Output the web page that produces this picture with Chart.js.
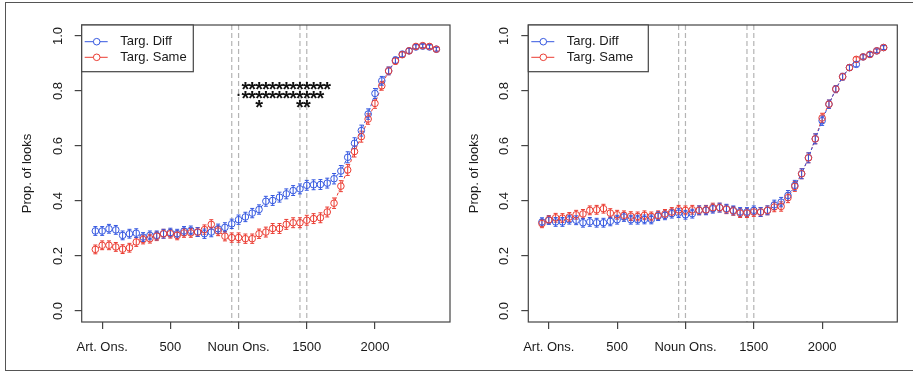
<!DOCTYPE html>
<html lang="en">
<head>
  <meta charset="UTF-8">
  <title>Prop. of looks</title>
  <script src="https://cdn.jsdelivr.net/npm/chart.js"></script>
  <style>
    body { margin: 0; background: #fff; }
    .frame { position: absolute; left: 5px; top: 2px; width: 915px; height: 367px; border: 1.5px solid #555; border-right: none; }
    .panel { position: absolute; top: 0; height: 372px; }
    #left { left: 0; width: 456px; }
    #right { left: 456px; width: 457px; }
  </style>
</head>
<body>
<div class="frame"></div>
<div class="panel" id="left"><canvas id="chartLeft"></canvas></div>
<div class="panel" id="right"><canvas id="chartRight"></canvas></div>

<script>
  // time bins (ms from article onset)
  const timeBins = [-50, 0, 50, 100, 150, 200, 250, 300, 350, 400, 450, 500, 550, 600, 650, 700, 750,
    800, 850, 900, 950, 1000, 1050, 1100, 1150, 1200, 1250, 1300, 1350, 1400, 1450, 1500, 1550, 1600,
    1650, 1700, 1750, 1800, 1850, 1900, 1950, 2000, 2050, 2100, 2150, 2200, 2250, 2300, 2350, 2400, 2450];

  const xTickValues = [0, 500, 1000, 1500, 2000];
  const xTickLabels = ['Art. Ons.', '500', 'Noun Ons.', '1500', '2000'];
  const yTickValues = [0, 0.2, 0.4, 0.6, 0.8, 1.0];
  const yTickLabels = ['0.0', '0.2', '0.4', '0.6', '0.8', '1.0'];
  const onsetLines = [950, 1000, 1450, 1500];
  const seriesNames = ['Targ. Diff', 'Targ. Same'];

  // left panel
  const leftDiff = [0.291, 0.291, 0.299, 0.295, 0.275, 0.281, 0.283, 0.269, 0.275, 0.275,
    0.281, 0.285, 0.281, 0.291, 0.293, 0.287, 0.281, 0.287, 0.299, 0.304,
    0.317, 0.332, 0.342, 0.356, 0.369, 0.399, 0.402, 0.414, 0.426, 0.438,
    0.444, 0.457, 0.459, 0.460, 0.465, 0.481, 0.509, 0.559, 0.610, 0.656,
    0.716, 0.791, 0.837, 0.873, 0.912, 0.934, 0.946, 0.960, 0.963, 0.960, 0.952];
  const leftSame = [0.224, 0.239, 0.239, 0.233, 0.225, 0.230, 0.251, 0.260, 0.263, 0.272,
    0.281, 0.281, 0.275, 0.284, 0.284, 0.287, 0.296, 0.315, 0.291, 0.272,
    0.267, 0.267, 0.263, 0.263, 0.281, 0.287, 0.300, 0.300, 0.315, 0.321,
    0.321, 0.330, 0.336, 0.339, 0.360, 0.392, 0.454, 0.513, 0.580, 0.634,
    0.698, 0.755, 0.819, 0.873, 0.909, 0.932, 0.946, 0.962, 0.965, 0.962, 0.952];
  const leftSE = [0.016, 0.016, 0.016, 0.016, 0.016, 0.016, 0.016, 0.016, 0.016, 0.016,
    0.016, 0.016, 0.016, 0.016, 0.016, 0.016, 0.017, 0.017, 0.017, 0.017,
    0.017, 0.017, 0.017, 0.017, 0.017, 0.018, 0.018, 0.018, 0.018, 0.018,
    0.018, 0.018, 0.018, 0.018, 0.018, 0.019, 0.020, 0.020, 0.020, 0.020,
    0.019, 0.018, 0.016, 0.014, 0.012, 0.010, 0.009, 0.008, 0.007, 0.007, 0.007];

  // significance rows (left panel only)
  const sigLevels = [0.82, 0.786, 0.752];
  const sigRow1 = [1050, 1100, 1150, 1200, 1250, 1300, 1350, 1400, 1450, 1500, 1550, 1600, 1650];
  const sigRow2 = [1050, 1100, 1150, 1200, 1250, 1300, 1350, 1400, 1450, 1500, 1550, 1600];
  const sigRow2Dot = [1000];
  const sigRow3 = [1150, 1450, 1500];

  // right panel
  const rightDiff = [0.324, 0.330, 0.324, 0.324, 0.332, 0.330, 0.321, 0.324, 0.321, 0.321,
    0.326, 0.332, 0.342, 0.332, 0.332, 0.333, 0.333, 0.345, 0.348, 0.354,
    0.356, 0.350, 0.354, 0.366, 0.366, 0.372, 0.376, 0.372, 0.366, 0.360,
    0.360, 0.366, 0.360, 0.366, 0.386, 0.396, 0.420, 0.457, 0.499, 0.557,
    0.626, 0.692, 0.752, 0.807, 0.852, 0.885, 0.897, 0.924, 0.933, 0.946, 0.958];
  const rightSame = [0.318, 0.332, 0.339, 0.338, 0.342, 0.350, 0.353, 0.366, 0.368, 0.372,
    0.356, 0.350, 0.348, 0.345, 0.344, 0.348, 0.344, 0.348, 0.353, 0.360,
    0.368, 0.366, 0.368, 0.366, 0.368, 0.376, 0.376, 0.370, 0.364, 0.356,
    0.356, 0.360, 0.360, 0.366, 0.378, 0.380, 0.412, 0.453, 0.499, 0.557,
    0.626, 0.702, 0.752, 0.807, 0.852, 0.885, 0.915, 0.924, 0.933, 0.946, 0.958];
  const rightSE = [0.015, 0.015, 0.016, 0.016, 0.016, 0.016, 0.016, 0.016, 0.016, 0.016,
    0.016, 0.016, 0.016, 0.016, 0.016, 0.016, 0.016, 0.016, 0.016, 0.016,
    0.016, 0.016, 0.016, 0.016, 0.016, 0.016, 0.016, 0.016, 0.016, 0.016,
    0.016, 0.016, 0.016, 0.016, 0.017, 0.017, 0.018, 0.018, 0.018, 0.018,
    0.018, 0.017, 0.015, 0.013, 0.012, 0.010, 0.009, 0.008, 0.008, 0.007, 0.007];

  const blue = '#3558e0';
  const red = '#eb3d33';
  const axisColor = '#444';
  const textColor = '#1a1a1a';
  const fontFamily = '"Liberation Sans", Arial, sans-serif';
  const pointR = 3.3;

  function toPoints(values) {
    return values.map((v, i) => ({ x: timeBins[i], y: v }));
  }

  const rPlot = {
    id: 'rPlot',
    beforeDatasetsDraw(chart) {
      const { ctx, chartArea: a, scales: { x, y } } = chart;
      // onset lines
      ctx.save();
      ctx.strokeStyle = '#b4b4b4';
      ctx.lineWidth = 1.2;
      ctx.setLineDash([5, 3]);
      onsetLines.forEach(t => {
        const px = x.getPixelForValue(t);
        ctx.beginPath(); ctx.moveTo(px, a.top); ctx.lineTo(px, a.bottom); ctx.stroke();
      });
      ctx.restore();

      // connecting lines with gaps round the points, and error bars
      chart.data.datasets.forEach(ds => {
        ctx.save();
        ctx.strokeStyle = ds.borderColor;
        ctx.lineWidth = 1;
        ctx.setLineDash([3, 2]);
        for (let i = 0; i < ds.data.length - 1; i++) {
          const x1 = x.getPixelForValue(ds.data[i].x), y1 = y.getPixelForValue(ds.data[i].y);
          const x2 = x.getPixelForValue(ds.data[i + 1].x), y2 = y.getPixelForValue(ds.data[i + 1].y);
          const d = Math.hypot(x2 - x1, y2 - y1);
          if (d <= 2 * pointR + 1) continue;
          const ux = (x2 - x1) / d, uy = (y2 - y1) / d;
          ctx.beginPath();
          ctx.moveTo(x1 + ux * pointR, y1 + uy * pointR);
          ctx.lineTo(x2 - ux * pointR, y2 - uy * pointR);
          ctx.stroke();
        }
        ctx.setLineDash([]);
        ds.data.forEach((p, i) => {
          const px = x.getPixelForValue(p.x);
          const lo = y.getPixelForValue(p.y - ds.se[i]);
          const hi = y.getPixelForValue(p.y + ds.se[i]);
          ctx.beginPath();
          ctx.moveTo(px, lo); ctx.lineTo(px, hi);
          ctx.moveTo(px - 2, lo); ctx.lineTo(px + 2, lo);
          ctx.moveTo(px - 2, hi); ctx.lineTo(px + 2, hi);
          ctx.stroke();
        });
        ctx.restore();
      });
    },
    afterDraw(chart, args, opts) {
      const { ctx, chartArea: a, scales: { x, y } } = chart;
      ctx.save();
      // box
      ctx.strokeStyle = axisColor;
      ctx.lineWidth = 1.2;
      ctx.strokeRect(a.left, a.top, a.right - a.left, a.bottom - a.top);

      // y tick labels, rotated like R
      ctx.fillStyle = textColor;
      ctx.font = '13px ' + fontFamily;
      ctx.textAlign = 'center';
      ctx.textBaseline = 'middle';
      yTickValues.forEach((v, i) => {
        ctx.save();
        ctx.translate(a.left - 23.5, y.getPixelForValue(v));
        ctx.rotate(-Math.PI / 2);
        ctx.fillText(yTickLabels[i], 0, 0);
        ctx.restore();
      });
      ctx.save();
      ctx.translate(a.left - 54, (a.top + a.bottom) / 2);
      ctx.rotate(-Math.PI / 2);
      ctx.fillText('Prop. of looks', 0, 0);
      ctx.restore();

      // legend
      const lw = opts.legendWidth, lh = 46.7;
      ctx.fillStyle = '#fff';
      ctx.fillRect(a.left, a.top, lw, lh);
      ctx.strokeStyle = axisColor;
      ctx.strokeRect(a.left, a.top, lw, lh);
      [blue, red].forEach((c, i) => {
        const ly = a.top + 16.7 + i * 15.6;
        ctx.strokeStyle = c;
        ctx.lineWidth = 1;
        ctx.beginPath(); ctx.moveTo(a.left + 3, ly); ctx.lineTo(a.left + 26, ly); ctx.stroke();
        ctx.fillStyle = '#fff';
        ctx.beginPath(); ctx.arc(a.left + 15, ly, pointR, 0, Math.PI * 2); ctx.fill(); ctx.stroke();
        ctx.fillStyle = textColor;
        ctx.textAlign = 'left';
        ctx.fillText(seriesNames[i], a.left + 38.5, ly);
      });

      // significance stars
      if (opts.stars) {
        ctx.font = 'bold 20px ' + fontFamily;
        ctx.textAlign = 'center';
        ctx.textBaseline = 'alphabetic';
        ctx.fillStyle = '#111';
        const drawGlyph = (g, t, lvl) => {
          const m = ctx.measureText(g);
          const cy = y.getPixelForValue(lvl);
          const base = cy + (m.actualBoundingBoxAscent - m.actualBoundingBoxDescent) / 2;
          ctx.fillText(g, x.getPixelForValue(t), base);
        };
        sigRow1.forEach(t => drawGlyph('*', t, sigLevels[0]));
        sigRow2.forEach(t => drawGlyph('*', t, sigLevels[1]));
        ctx.font = '20px ' + fontFamily;
        sigRow2Dot.forEach(t => drawGlyph('.', t, sigLevels[1]));
        ctx.font = 'bold 20px ' + fontFamily;
        sigRow3.forEach(t => drawGlyph('*', t, sigLevels[2]));
      }
      ctx.restore();
    }
  };

  function makeChart(id, diff, same, se, yAxisWidth, padRight, legendWidth, stars) {
    const ctx = document.getElementById(id).getContext('2d');
    return new Chart(ctx, {
      type: 'scatter',
      data: {
        datasets: [{
          label: seriesNames[1],
          data: toPoints(same),
          se: se,
          borderColor: red,
          backgroundColor: 'rgba(0,0,0,0)',
          pointRadius: pointR,
          pointBorderWidth: 1,
          showLine: false
        }, {
          label: seriesNames[0],
          data: toPoints(diff),
          se: se,
          borderColor: blue,
          backgroundColor: 'rgba(0,0,0,0)',
          pointRadius: pointR,
          pointBorderWidth: 1,
          showLine: false
        }]
      },
      options: {
        responsive: true,
        maintainAspectRatio: false,
        animation: false,
        layout: { padding: { top: 25, right: padRight, left: 0, bottom: 0 } },
        plugins: {
          legend: { display: false },
          tooltip: { enabled: false },
          rPlot: { legendWidth: legendWidth, stars: stars }
        },
        scales: {
          x: {
            type: 'linear',
            min: -150,
            max: 2550,
            afterBuildTicks: s => { s.ticks = xTickValues.map(v => ({ value: v })); },
            afterFit: s => { s.height = 50; },
            border: { display: false },
            grid: { drawOnChartArea: false, drawTicks: true, tickLength: 7, color: axisColor, lineWidth: 1.2 },
            ticks: {
              autoSkip: false,
              maxRotation: 0,
              minRotation: 0,
              padding: 11,
              color: textColor,
              font: { family: fontFamily, size: 13 },
              callback: (value, index) => xTickLabels[index]
            }
          },
          y: {
            min: -0.04,
            max: 1.04,
            afterBuildTicks: s => { s.ticks = yTickValues.map(v => ({ value: v })); },
            afterFit: s => { s.width = yAxisWidth; },
            border: { display: false },
            grid: { drawOnChartArea: false, drawTicks: true, tickLength: 7, color: axisColor, lineWidth: 1.2 },
            ticks: { display: false }
          }
        }
      },
      plugins: [rPlot]
    });
  }

  makeChart('chartLeft', leftDiff, leftSame, leftSE, 81.7, 6, 111.6, true);
  makeChart('chartRight', rightDiff, rightSame, rightSE, 72.3, 15.7, 120, false);
</script>
</body>
</html>
